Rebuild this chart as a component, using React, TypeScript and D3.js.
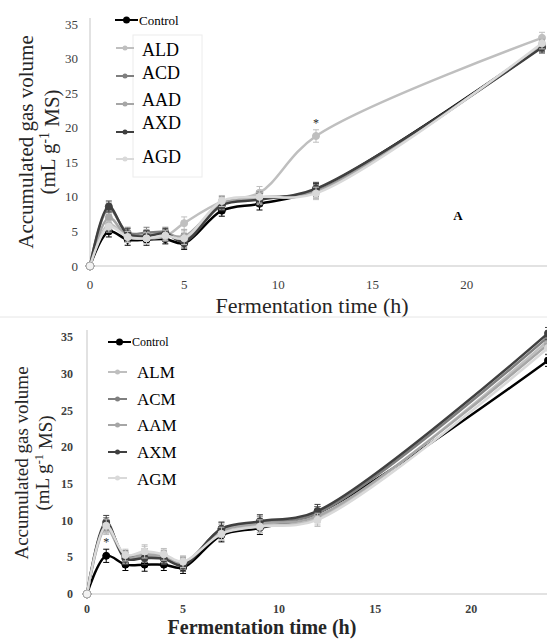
import React from "react";
import * as d3 from "d3";

const times = [0, 1, 2, 3, 4, 5, 7, 9, 12, 24];
const xTicks = [0, 5, 10, 15, 20];
const yTicks = [0, 5, 10, 15, 20, 25, 30, 35];

const topNames = ["Control", "ALD", "ACD", "AAD", "AXD", "AGD"];
const topControl = [0, 5.0, 3.8, 3.8, 3.9, 3.3, 8.0, 9.0, 11.0, 31.8];
const topALD = [0, 6.0, 4.2, 4.0, 4.3, 6.2, 9.3, 10.6, 18.8, 33.0];
const topACD = [0, 8.3, 4.8, 4.8, 4.9, 3.8, 9.2, 9.9, 10.9, 31.8];
const topAAD = [0, 7.0, 4.3, 4.5, 4.6, 4.3, 9.0, 9.8, 10.7, 32.0];
const topAXD = [0, 8.6, 4.6, 4.3, 4.7, 3.5, 8.8, 9.6, 11.2, 31.6];
const topAGD = [0, 5.7, 4.2, 4.0, 4.4, 4.0, 9.4, 10.0, 10.5, 32.2];
const topErr = [0, 0.8, 0.8, 0.8, 0.7, 0.9, 0.8, 0.9, 0.9, 0.8];

const botNames = ["Control", "ALM", "ACM", "AAM", "AXM", "AGM"];
const botControl = [0, 5.2, 4.0, 4.0, 4.0, 3.6, 8.0, 9.0, 11.0, 31.8];
const botALM = [0, 9.0, 5.0, 5.6, 5.2, 4.3, 8.3, 9.3, 10.3, 34.5];
const botACM = [0, 9.5, 5.1, 5.2, 5.0, 4.1, 8.8, 9.7, 11.0, 35.0];
const botAAM = [0, 9.2, 4.9, 5.3, 5.1, 4.2, 8.6, 9.6, 10.6, 34.0];
const botAXM = [0, 9.8, 4.8, 4.9, 4.8, 3.9, 8.9, 9.9, 11.3, 35.5];
const botAGM = [0, 9.3, 5.3, 5.8, 5.4, 4.4, 8.2, 9.2, 10.1, 33.5];
const botErr = [0, 0.9, 0.8, 0.9, 0.8, 0.8, 0.9, 0.9, 0.9, 0.8];

const colors = ["#000000", "#bfbfbf", "#7f7f7f", "#a6a6a6", "#404040", "#d9d9d9"];

const FONT = "Liberation Serif";

type PanelProps = {
  names: string[];
  series: number[][];
  err: number[];
  x0: number; x24: number; xEnd: number;
  yBottom: number; yTop: number; yAxisTop: number;
  tickFont: number; tickBold: boolean; tickRight: number; xTickY: number;
  titleX: number; titleY: number; titleFont: number; titleBold: boolean;
  yTitleX1: number; yTitleX2: number; yTitleY: number; yTitleFont: number;
  legendCtrl: { x1: number; x2: number; y: number; tx: number; fs: number };
  legendItems: { y: number; ty: number }[];
  legendLine: [number, number]; legendTx: number; legendFs: number;
  legendBox?: [number, number, number, number];
  star: { s: number; i: number };
};

function Panel(p: PanelProps) {
  const x = d3.scaleLinear().domain([0, 24]).range([p.x0, p.x24]);
  const y = d3.scaleLinear().domain([0, 35]).range([p.yBottom, p.yTop]);
  const line = d3
    .line<number>()
    .x((_, i) => x(times[i]))
    .y((d) => y(d))
    .curve(d3.curveCatmullRom.alpha(0.5));
  const starVal = p.series[p.star.s][p.star.i] + p.err[p.star.i];
  return (
    <g>
      <line x1={p.x0} x2={p.x0} y1={p.yAxisTop} y2={p.yBottom} stroke="#d9d9d9" strokeWidth={1.5} />
      <line x1={p.x0} x2={p.xEnd} y1={p.yBottom} y2={p.yBottom} stroke="#d9d9d9" strokeWidth={1.5} />
      {yTicks.map((t) => (
        <text key={t} x={p.tickRight} y={y(t)} dy="0.35em" textAnchor="end" fontSize={p.tickFont}
          fontWeight={p.tickBold ? "bold" : "normal"} fill="#404040" style={{ fontFamily: FONT }}>{t}</text>
      ))}
      {xTicks.map((t) => (
        <text key={t} x={x(t)} y={p.xTickY} dy="0.35em" textAnchor="middle" fontSize={p.tickFont}
          fontWeight={p.tickBold ? "bold" : "normal"} fill="#404040" style={{ fontFamily: FONT }}>{t}</text>
      ))}
      <text x={p.titleX} y={p.titleY} textAnchor="middle" fontSize={p.titleFont}
        fontWeight={p.titleBold ? "bold" : "normal"} fill="#262626" style={{ fontFamily: FONT }}>Fermentation time (h)</text>
      <text transform={`translate(${p.yTitleX1},${p.yTitleY}) rotate(-90)`} textAnchor="middle" dy="0.35em"
        fontSize={p.yTitleFont} fill="#262626" style={{ fontFamily: FONT }}>Accumulated gas volume</text>
      <text transform={`translate(${p.yTitleX2},${p.yTitleY}) rotate(-90)`} textAnchor="middle" dy="0.35em"
        fontSize={p.yTitleFont} fill="#262626" style={{ fontFamily: FONT }}>
        (mL g<tspan dy="-0.45em" fontSize={p.yTitleFont * 0.65}>-1</tspan><tspan dy="0.45em"> MS)</tspan>
      </text>
      {p.series.map((s, si) => (
        <g key={si}>
          <path d={line(s) || ""} fill="none" stroke={colors[si]} strokeWidth={2.5} />
          {s.map((v, i) =>
            i === 0 ? null : (
              <g key={i} stroke={colors[si] === "#d9d9d9" ? "#bfbfbf" : colors[si]} strokeWidth={1}>
                <line x1={x(times[i])} x2={x(times[i])} y1={y(v - p.err[i])} y2={y(v + p.err[i])} />
                <line x1={x(times[i]) - 3} x2={x(times[i]) + 3} y1={y(v - p.err[i])} y2={y(v - p.err[i])} />
                <line x1={x(times[i]) - 3} x2={x(times[i]) + 3} y1={y(v + p.err[i])} y2={y(v + p.err[i])} />
              </g>
            )
          )}
          {s.map((v, i) => (
            <circle key={"m" + i} cx={x(times[i])} cy={y(v)} r={i === 0 ? 4 : 3.5}
              fill={i === 0 ? "#f2f2f2" : colors[si]} stroke={i === 0 ? "#a6a6a6" : colors[si]} strokeWidth={1} />
          ))}
        </g>
      ))}
      <text x={x(times[p.star.i])} y={y(starVal) - 3} textAnchor="middle" fontSize={12} fill="#262626" style={{ fontFamily: FONT }}>*</text>
      <line x1={p.legendCtrl.x1} x2={p.legendCtrl.x2} y1={p.legendCtrl.y} y2={p.legendCtrl.y} stroke="#000" strokeWidth={2} />
      <circle cx={(p.legendCtrl.x1 + p.legendCtrl.x2) / 2} cy={p.legendCtrl.y} r={3.5} fill="#000" />
      <text x={p.legendCtrl.tx} y={p.legendCtrl.y} dy="0.35em" fontSize={p.legendCtrl.fs} fill="#000" style={{ fontFamily: FONT }}>{p.names[0]}</text>
      {p.legendBox && (
        <rect x={p.legendBox[0]} y={p.legendBox[1]} width={p.legendBox[2]} height={p.legendBox[3]} fill="#fff" stroke="#ececec" />
      )}
      {p.legendItems.map((it, k) => (
        <g key={k}>
          <line x1={p.legendLine[0]} x2={p.legendLine[1]} y1={it.y} y2={it.y} stroke={colors[k + 1]} strokeWidth={2} />
          <circle cx={(p.legendLine[0] + p.legendLine[1]) / 2} cy={it.y} r={2.5} fill={colors[k + 1]} />
          <text x={p.legendTx} y={it.ty} dy="0.35em" fontSize={p.legendFs} fill="#000" style={{ fontFamily: FONT }}>{p.names[k + 1]}</text>
        </g>
      ))}
    </g>
  );
}

export default function App() {
  return (
    <svg width={547} height={640} style={{ position: "absolute", left: 0, top: 0, background: "#fff" }}>
      <rect width={547} height={640} fill="#fff" />
      <Panel
        names={topNames}
        series={[topControl, topALD, topACD, topAAD, topAXD, topAGD]}
        err={topErr}
        x0={90} x24={542} xEnd={547}
        yBottom={266} yTop={24} yAxisTop={18}
        tickFont={13} tickBold={false} tickRight={78} xTickY={284}
        titleX={312} titleY={313} titleFont={22} titleBold={false}
        yTitleX1={26} yTitleX2={48} yTitleY={142} yTitleFont={21}
        legendCtrl={{ x1: 115, x2: 138, y: 20, tx: 139, fs: 13 }}
        legendItems={[{ y: 48, ty: 50 }, { y: 76, ty: 73 }, { y: 104, ty: 100 }, { y: 132, ty: 123 }, { y: 159, ty: 157 }]}
        legendLine={[116, 134]} legendTx={142} legendFs={18}
        legendBox={[133, 35, 69, 142]}
        star={{ s: 1, i: 8 }}
      />
      <text x={458} y={215} dy="0.35em" textAnchor="middle" fontSize={13} fontWeight="bold" fill="#000" style={{ fontFamily: FONT }}>A</text>
      <line x1={0} x2={547} y1={317} y2={317} stroke="#e6e6e6" strokeWidth={1} />
      <Panel
        names={botNames}
        series={[botControl, botALM, botACM, botAAM, botAXM, botAGM]}
        err={botErr}
        x0={87} x24={548} xEnd={547}
        yBottom={594} yTop={337} yAxisTop={330}
        tickFont={12} tickBold={true} tickRight={73} xTickY={609}
        titleX={262} titleY={634} titleFont={20} titleBold={true}
        yTitleX1={21} yTitleX2={42} yTitleY={463} yTitleFont={19}
        legendCtrl={{ x1: 108, x2: 131, y: 342, tx: 132, fs: 12 }}
        legendItems={[{ y: 372, ty: 372 }, { y: 399, ty: 399 }, { y: 425, ty: 425 }, { y: 452, ty: 452 }, { y: 478, ty: 479 }]}
        legendLine={[108, 127]} legendTx={137} legendFs={17}
        star={{ s: 0, i: 1 }}
      />
    </svg>
  );
}
